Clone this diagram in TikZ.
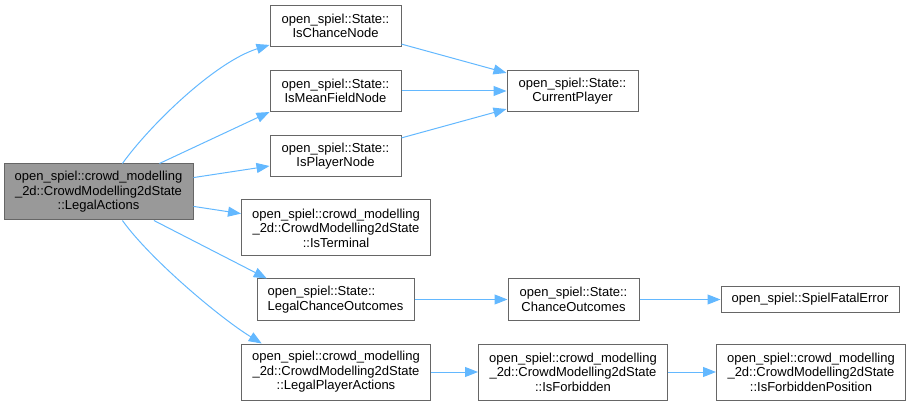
\documentclass[tikz,border=0pt]{standalone}
\usepackage{fontspec}
\setmainfont{Liberation Sans}
\usepackage{tikz}
\usetikzlibrary{arrows.meta,positioning}
\definecolor{cgEdge}{RGB}{99,184,255}
\definecolor{cgLine}{RGB}{102,102,102}
\definecolor{cgRoot}{RGB}{153,153,153}

\begin{document}
\begin{tikzpicture}[
  x=1pt, y=-1pt,
  box/.style={draw=cgLine, line width=1pt, fill=white, inner sep=0pt, align=center, minimum height=41pt, font=\fontsize{13}{14.5}\selectfont},
  statebox/.style={box, minimum width=131pt},
  widebox/.style={box, minimum width=189pt, minimum height=56pt},
  arr/.style={-{Triangle[length=13pt, width=10pt]}, line width=1pt, draw=cgEdge}
]
\useasboundingbox (0,0) rectangle (908,406);
\node[widebox, fill=cgRoot] (legalActions) at (98.5,192) {open\_spiel::crowd\_modelling\\\_2d::CrowdModelling2dState\\::LegalActions};
\node[statebox] (isChance) at (335.5,26) {open\_spiel::State::\\IsChanceNode};
\node[statebox] (isMeanField) at (335.5,91) {open\_spiel::State::\\IsMeanFieldNode};
\node[statebox] (isPlayer) at (335.5,156) {open\_spiel::State::\\IsPlayerNode};
\node[statebox, right=105pt of isMeanField] (currentPlayer) {open\_spiel::State::\\CurrentPlayer};
\node[widebox] (isTerminal) at (336,228) {open\_spiel::crowd\_modelling\\\_2d::CrowdModelling2dState\\::IsTerminal};
\node[box, minimum width=157pt, align=left] (legalChance) at (335.5,299.5) {open\_spiel::State::\\LegalChanceOutcomes};
\node[statebox, right=93pt of legalChance] (chanceOutcomes) {open\_spiel::State::\\ChanceOutcomes};
\node[box, minimum width=178pt, minimum height=26pt, right=81pt of chanceOutcomes] (fatalError) {open\_spiel::SpielFatalError};
\node[widebox] (legalPlayer) at (336,372) {open\_spiel::crowd\_modelling\\\_2d::CrowdModelling2dState\\::LegalPlayerActions};
\node[widebox, right=47pt of legalPlayer] (isForbidden) {open\_spiel::crowd\_modelling\\\_2d::CrowdModelling2dState\\::IsForbidden};
\node[widebox, right=48pt of isForbidden] (isForbiddenPos) {open\_spiel::crowd\_modelling\\\_2d::CrowdModelling2dState\\::IsForbiddenPosition};

% calls from LegalActions
\draw[arr] (legalActions.50) .. controls (150,125) and (215,62) .. (isChance.196);
\draw[arr] (legalActions) -- (isMeanField.south west);
\draw[arr] (legalActions) -- (isPlayer);
\draw[arr] (legalActions) -- (isTerminal);
\draw[arr] (legalActions) -- (legalChance.163);
\draw[arr] (legalActions.-50) .. controls (150,259) and (220,318) .. (legalPlayer.159);
% deeper calls
\draw[arr] (isChance) -- (currentPlayer);
\draw[arr] (isMeanField) -- (currentPlayer);
\draw[arr] (isPlayer) -- (currentPlayer);
\draw[arr] (legalChance) -- (chanceOutcomes);
\draw[arr] (chanceOutcomes) -- (fatalError);
\draw[arr] (legalPlayer) -- (isForbidden);
\draw[arr] (isForbidden) -- (isForbiddenPos);
\end{tikzpicture}
\end{document}
